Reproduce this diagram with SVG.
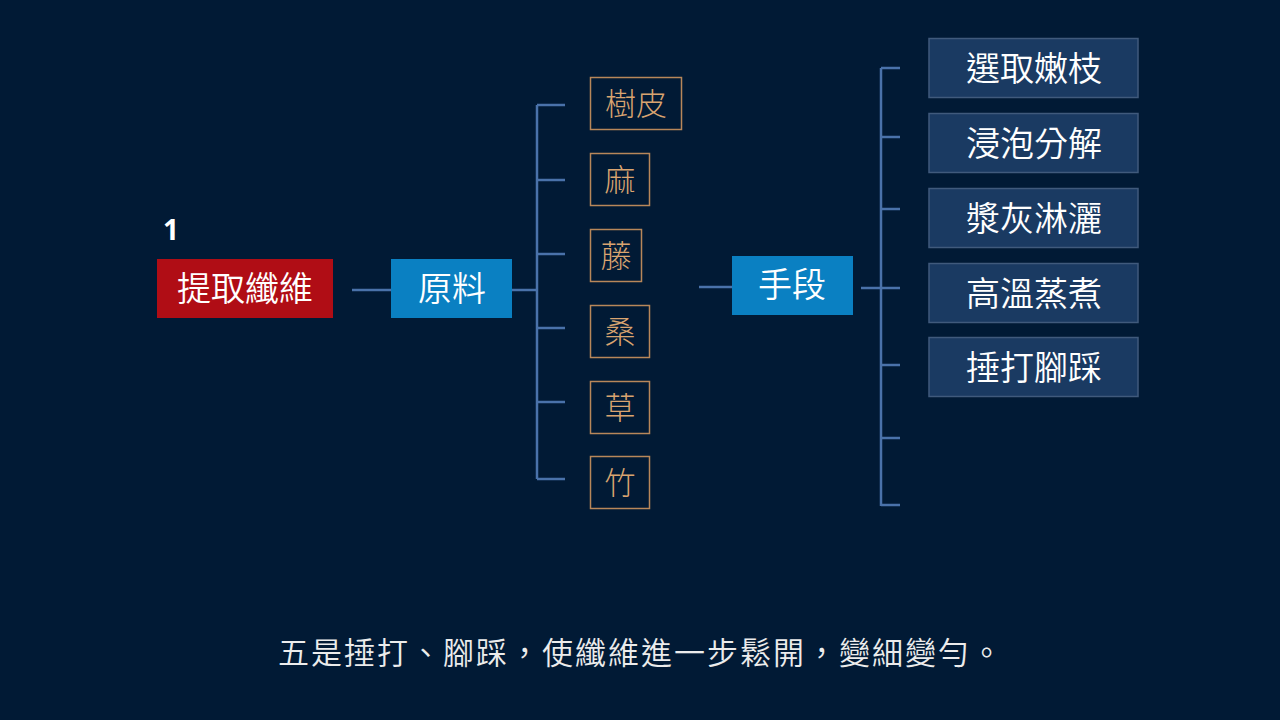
<svg xmlns="http://www.w3.org/2000/svg" width="1280" height="720" viewBox="0 0 1280 720" xml:lang="zh-Hant">
<style>
.t{font-family:"Noto Sans CJK TC","Noto Sans CJK SC",sans-serif;text-anchor:middle}
.w{fill:#ffffff;font-size:34px;font-weight:350}
.tan{fill:#d9a470;font-size:31px;font-weight:300}
.tb{fill:none;stroke:#b8875a;stroke-width:1.5}
.rb{fill:#1a3a62;stroke:#405a7c;stroke-width:1.5}
.c{stroke:#4a72aa;stroke-width:2.5;fill:none}
</style>
<rect x="0" y="0" width="1280" height="720" fill="#011a35"/>
<text x="171" y="240" style="font-family:'Open Sans','Liberation Sans',sans-serif;font-weight:bold;font-size:28px;fill:#fff" text-anchor="middle">1</text>
<g id="connectors">
<path class="c" d="M352 290 H400"/>
<path class="c" d="M512 290 H537 M537 105 V479 M537 105 H565 M537 180 H565 M537 254 H565 M537 328 H565 M537 402 H565 M537 479 H565"/>
<path class="c" d="M699 287 H750"/>
<path class="c" d="M861 288 H900 M881 68 V506 M881 68 H900 M881 137 H900 M881 209 H900 M881 288 H900 M881 365 H900 M881 438 H900 M881 505 H900"/>
</g>
<g id="n-extract"><rect x="157" y="259" width="176" height="59" fill="#b00d15"/><text class="t w" x="245" y="301">提取纖維</text></g>
<g id="n-material"><rect x="391" y="259" width="121" height="59" fill="#0a80c2"/><text class="t w" x="452" y="301">原料</text></g>
<g id="n-bark"><rect class="tb" x="590.5" y="77.5" width="91" height="52"/><text class="t tan" x="636" y="115">樹皮</text></g>
<g id="n-hemp"><rect class="tb" x="590.5" y="153.5" width="59" height="52"/><text class="t tan" x="620" y="191">麻</text></g>
<g id="n-rattan"><rect class="tb" x="590.5" y="229.5" width="51" height="52"/><text class="t tan" x="616" y="267">藤</text></g>
<g id="n-mulberry"><rect class="tb" x="590.5" y="305.5" width="59" height="52"/><text class="t tan" x="620" y="343">桑</text></g>
<g id="n-grass"><rect class="tb" x="590.5" y="381.5" width="59" height="52"/><text class="t tan" x="620" y="419">草</text></g>
<g id="n-bamboo"><rect class="tb" x="590.5" y="456.5" width="59" height="52"/><text class="t tan" x="620" y="494">竹</text></g>
<g id="n-means"><rect x="732" y="256" width="121" height="59" fill="#0a80c2"/><text class="t w" x="792" y="297">手段</text></g>
<g id="n-s1"><rect class="rb" x="929" y="38.5" width="209" height="59"/><text class="t w" x="1034" y="81">選取嫩枝</text></g>
<g id="n-s2"><rect class="rb" x="929" y="113.5" width="209" height="59"/><text class="t w" x="1034" y="156">浸泡分解</text></g>
<g id="n-s3"><rect class="rb" x="929" y="188.5" width="209" height="59"/><text class="t w" x="1034" y="231">漿灰淋灑</text></g>
<g id="n-s4"><rect class="rb" x="929" y="263.5" width="209" height="59"/><text class="t w" x="1034" y="306">高溫蒸煮</text></g>
<g id="n-s5"><rect class="rb" x="929" y="337.5" width="209" height="59"/><text class="t w" x="1034" y="380">捶打腳踩</text></g>
<text class="t" x="641" y="664" style="fill:#ececec;font-size:31px;font-weight:350;letter-spacing:2px">五是捶打、腳踩，使纖維進一步鬆開，變細變勻。</text>
</svg>
